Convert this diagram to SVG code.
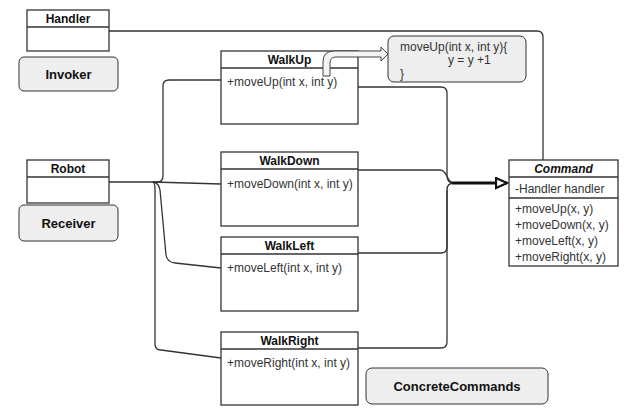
<svg xmlns="http://www.w3.org/2000/svg" width="624" height="416" viewBox="0 0 624 416">
<style>
.box{fill:#fff;stroke:#333;stroke-width:1.3}
.lbl{fill:#eee;stroke:#333;stroke-width:1}
.t{font-family:"Liberation Sans",Arial,sans-serif;font-size:12px;font-weight:bold;fill:#111;text-anchor:middle}
.m{font-family:"Liberation Sans",Arial,sans-serif;font-size:12px;fill:#333}
.big{font-family:"Liberation Sans",Arial,sans-serif;font-size:13px;font-weight:bold;fill:#111;text-anchor:middle}
.c{fill:none;stroke:#333;stroke-width:1.3}
</style>
<defs>
<marker id="tri" markerWidth="14" markerHeight="14" refX="12" refY="6" orient="auto" markerUnits="userSpaceOnUse">
<path d="M1,1 L12,6 L1,11 Z" fill="#fff" stroke="#111" stroke-width="2.2"/>
</marker>
</defs>
<rect width="624" height="416" fill="#fff"/>
<g id="handler">
<rect class="box" x="27" y="10" width="82" height="41"/>
<line class="c" x1="27" y1="27" x2="109" y2="27"/>
<text class="t" x="68" y="23">Handler</text>
</g>
<g id="invoker">
<rect class="lbl" x="19" y="57" width="99" height="34" rx="5"/>
<text class="big" x="68.5" y="79">Invoker</text>
</g>
<g id="robot">
<rect class="box" x="27" y="160" width="82" height="43"/>
<line class="c" x1="27" y1="177" x2="109" y2="177"/>
<text class="t" x="68" y="173">Robot</text>
</g>
<g id="receiver">
<rect class="lbl" x="19" y="205" width="99" height="36" rx="5"/>
<text class="big" x="68.5" y="228">Receiver</text>
</g>
<g id="walkup">
<rect class="box" x="221" y="51" width="137" height="73"/>
<line class="c" x1="221" y1="68" x2="358" y2="68"/>
<text class="t" x="289.5" y="64">WalkUp</text>
<text class="m" x="227" y="86">+moveUp(int x, int y)</text>
</g>
<g id="note">
<rect class="lbl" x="388" y="36" width="138" height="46" rx="6"/>
<text class="m" x="400" y="51">moveUp(int x, int y){</text>
<text class="m" x="448" y="64">y = y +1</text>
<text class="m" x="400" y="78">}</text>
</g>
<g id="walkdown">
<rect class="box" x="221" y="152" width="137" height="74"/>
<line class="c" x1="221" y1="169" x2="358" y2="169"/>
<text class="t" x="289.5" y="165">WalkDown</text>
<text class="m" x="227" y="188">+moveDown(int x, int y)</text>
</g>
<g id="walkleft">
<rect class="box" x="221" y="237" width="137" height="74"/>
<line class="c" x1="221" y1="254" x2="358" y2="254"/>
<text class="t" x="289.5" y="250">WalkLeft</text>
<text class="m" x="227" y="272">+moveLeft(int x, int y)</text>
</g>
<g id="walkright">
<rect class="box" x="221" y="332" width="137" height="73"/>
<line class="c" x1="221" y1="349" x2="358" y2="349"/>
<text class="t" x="289.5" y="345">WalkRight</text>
<text class="m" x="227" y="367">+moveRight(int x, int y)</text>
</g>
<g id="command">
<rect class="box" x="509" y="160" width="109" height="106"/>
<line class="c" x1="509" y1="177" x2="618" y2="177"/>
<line class="c" x1="509" y1="198" x2="618" y2="198"/>
<text class="t" x="563.5" y="173" font-style="italic">Command</text>
<text class="m" x="515" y="193">-Handler handler</text>
<text class="m" x="515" y="213">+moveUp(x, y)</text>
<text class="m" x="515" y="229">+moveDown(x, y)</text>
<text class="m" x="515" y="245">+moveLeft(x, y)</text>
<text class="m" x="515" y="261">+moveRight(x, y)</text>
</g>
<g id="concretecommands">
<rect class="lbl" x="366" y="368" width="182" height="36" rx="6"/>
<text class="big" x="457" y="391">ConcreteCommands</text>
</g>
<g id="connectors">
<path class="c" d="M109,31 L537,31 Q543,31 543,37 L543,160"/>
<path class="c" d="M358,87 L441,87 Q447,87 447,93 L447,176 Q447,183 454,183"/>
<path class="c" d="M358,170 L440,170 C448,170 446,183 455,183"/>
<path class="c" d="M358,253 L441,253 Q447,253 447,247 L447,190 Q447,183 454,183"/>
<path class="c" d="M358,348 L441,348 Q447,348 447,342 L447,190"/>
<path d="M452,183 L507,183" fill="none" stroke="#111" stroke-width="3" marker-end="url(#tri)"/>
<path class="c" d="M109,182 L157,182 Q163,182 163,176 L163,86 Q163,80 169,80 L221,80"/>
<path class="c" d="M153,182 L221,184"/>
<path class="c" d="M153,182 Q159,183 160,190 L166,255 Q167,262 175,263 L221,268"/>
<path class="c" d="M153,182 Q155,183 155,190 L155,344 Q155,350 161,350 L221,358"/>
<path d="M323,76 L323,62 Q323,51 334,51 L381,51 L381,47 L388,54 L381,61 L381,57 L336,57 Q330,57 330,63 L330,76 Z" fill="#f4f4f4" stroke="#444" stroke-width="1"/>
</g>
</svg>
